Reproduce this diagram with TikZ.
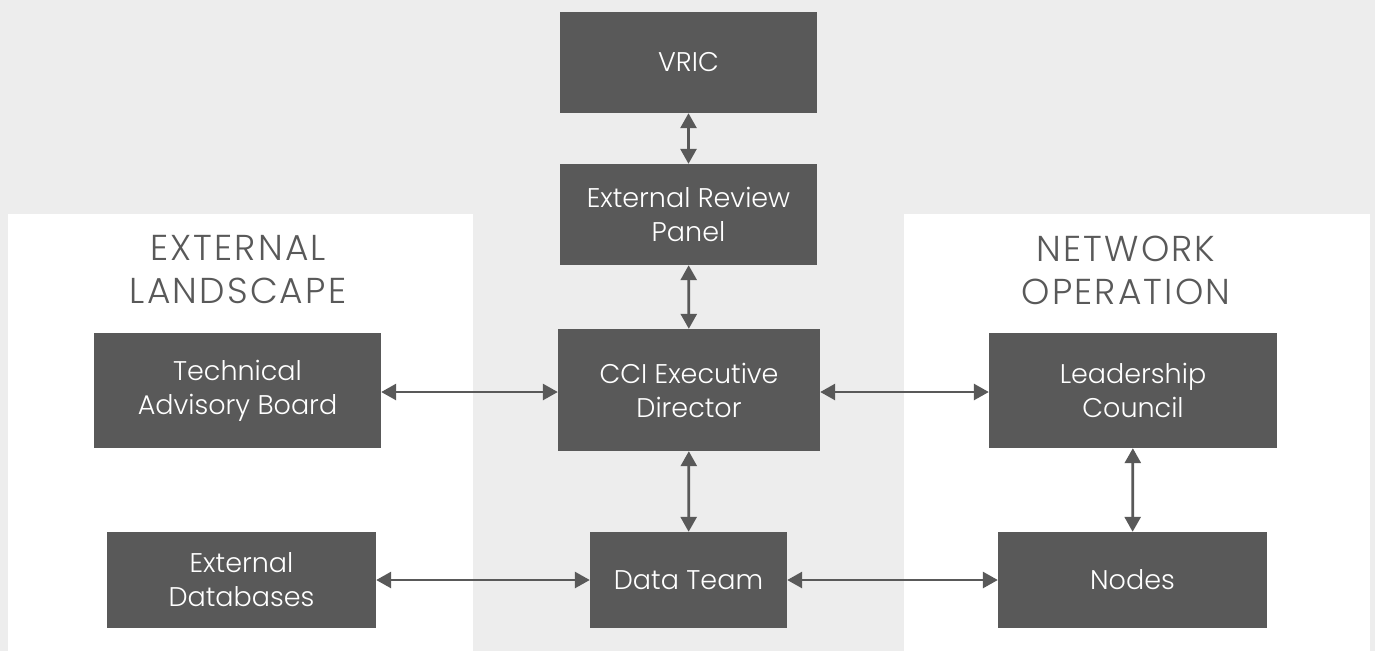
\documentclass[tikz,border=0pt]{standalone}
\usepackage{fontspec}
\setmainfont{Poppins}[UprightFont=* Light]
\newfontfamily\titlefont{Poppins}[UprightFont=* Light, LetterSpace=6]
\usetikzlibrary{arrows.meta}
\definecolor{bgray}{HTML}{EDEDED}
\definecolor{boxgray}{HTML}{595959}
\begin{document}
\begin{tikzpicture}[x=1pt,y=-1pt,
  unit/.style={fill=boxgray, text=white, inner sep=0pt, align=center,
    font=\fontsize{27}{34}\selectfont},
  paneltitle/.style={text=boxgray, align=center, font=\titlefont\fontsize{36}{43}\selectfont},
  link/.style={draw=boxgray, line width=2.8pt,
    {Triangle[length=15pt,width=16pt]}-{Triangle[length=15pt,width=16pt]}}]
  % canvas and side panels
  \fill[bgray] (0,0) rectangle (1375,651);
  \useasboundingbox (0,0) rectangle (1375,651);
  \fill[white] (8,214) rectangle (473,651);
  \fill[white] (904,214) rectangle (1370,651);
  % panel titles
  \node[paneltitle] (tl) at (238,270) {EXTERNAL\\LANDSCAPE};
  \node[paneltitle] (tr) at (1126,270) {NETWORK\\OPERATION};
  % units
  \node[unit, minimum width=257pt, minimum height=101pt] (vric) at (688.5,62.5) {VRIC};
  \node[unit, minimum width=257pt, minimum height=101pt] (erp) at (688.5,214.5) {External Review\\Panel};
  \node[unit, minimum width=262pt, minimum height=122pt] (cci) at (689,390) {CCI Executive\\Director};
  \node[unit, minimum width=287pt, minimum height=115pt] (tab) at (237.5,390.5) {Technical\\Advisory Board};
  \node[unit, minimum width=288pt, minimum height=115pt] (lc) at (1133,390.5) {Leadership\\Council};
  \node[unit, minimum width=269pt, minimum height=96pt] (edb) at (241.5,580) {External\\Databases};
  \node[unit, minimum width=197pt, minimum height=96pt] (dt) at (688.5,580) {Data Team};
  \node[unit, minimum width=269pt, minimum height=96pt] (nodes) at (1132.5,580) {Nodes};
  % links
  \draw[link] (vric) -- (erp);
  \draw[link] (erp) -- (cci);
  \draw[link] (tab.east |- 0,392) -- (cci.west |- 0,392);
  \draw[link] (cci.east |- 0,392) -- (lc.west |- 0,392);
  \draw[link] (cci) -- (dt);
  \draw[link] (edb) -- (dt);
  \draw[link] (dt) -- (nodes);
  \draw[link] (lc) -- (nodes);
\end{tikzpicture}
\end{document}
